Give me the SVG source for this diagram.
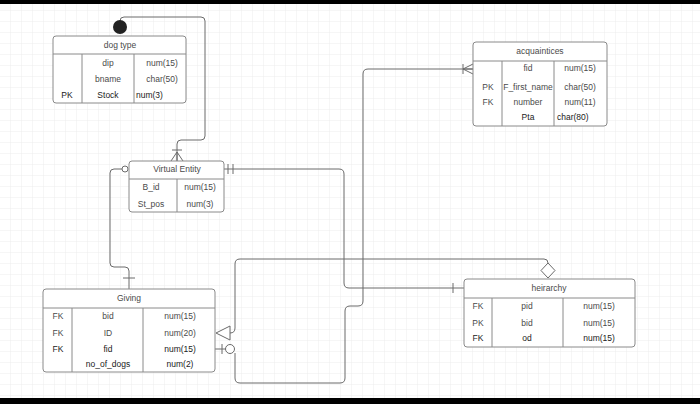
<svg xmlns="http://www.w3.org/2000/svg" width="700" height="404" viewBox="0 0 700 404">
<style>
.tbl{fill:#fff;stroke:#8a8a8a;stroke-width:1}
.ln{stroke:#8a8a8a;stroke-width:1;fill:none}
.cn{stroke:#6a6a6a;stroke-width:1;fill:none}
text{font-family:"Liberation Sans",Arial,sans-serif;font-size:8.5px;fill:#4a4a4a}
.m{text-anchor:middle}
.d{fill:#1a1a1a}
</style>
<defs>
<pattern id="g" width="11" height="11" patternUnits="userSpaceOnUse">
<path d="M11 0V11M0 11H11" stroke="#ececec" stroke-width="1" fill="none"/>
</pattern>
</defs>
<rect width="700" height="404" fill="#fff"/>
<rect width="700" height="404" fill="url(#g)"/>
<rect x="0" y="0" width="700" height="4" fill="#000"/>
<rect x="0" y="398" width="700" height="6" fill="#000"/>

<g id="connectors">
<!-- dog type circle to Virtual Entity -->
<path class="cn" d="M120 22V21Q120 17 124 17H201Q205 17 205 21V136Q205 140 201 140H181Q177 140 177 144V161"/>
<path class="cn" d="M172 150H182M177 152L171 161M177 152V161M177 152L183 161"/>
<!-- Virtual Entity left to Giving top -->
<path class="cn" d="M122 169H114Q110 169 110 173V263Q110 267 114 267H125Q129 267 129 271V289"/>
<circle cx="125" cy="169" r="3" fill="#fff" stroke="#6a6a6a"/>
<path class="cn" d="M123 278H135"/>
<!-- Virtual Entity right to heirarchy -->
<path class="cn" d="M224 169H339Q344 169 344 174V283Q344 288 349 288H464"/>
<path class="cn" d="M228 164V174M233 164V174M453 283V293"/>
<!-- acquaintices to Giving fid -->
<path class="cn" d="M473 69H368Q363 69 363 74V301Q363 306 358 306H350Q345 306 345 311V378Q345 383 340 383H240Q235 383 235 378V353"/>
<path class="cn" d="M463 64V74M463 69L473 64M463 69H473M463 69L473 74"/>
<path class="cn" d="M215 349H226"/>
<path class="cn" d="M222 344V354"/>
<circle cx="230" cy="349" r="4.5" fill="#fff" stroke="#6a6a6a"/>
<!-- heirarchy diamond to Giving ID -->
<path class="cn" d="M548 263Q548 259 544 259H240Q235 259 235 264V328Q235 333 230 333"/>
<path d="M216 333L230 326V340Z" fill="#fff" stroke="#6a6a6a"/>
<path d="M548 263L555 270.5L548 278L541 270.5Z" fill="#fff" stroke="#6a6a6a"/>
</g>

<g id="dog_type">
<rect class="tbl" x="53" y="36" width="133" height="67" rx="3"/>
<path class="ln" d="M53 54H186M82 54V103M134 54V103"/>
<circle cx="120" cy="27" r="7" fill="#222"/>
<text class="m" x="120" y="48">dog type</text>
<text class="m" x="108" y="66">dip</text>
<text class="m" x="108" y="82">bname</text>
<text class="m d" x="108" y="98">Stock</text>
<text class="m d" x="67" y="98">PK</text>
<text class="m" x="162" y="66">num(15)</text>
<text class="m" x="162" y="82">char(50)</text>
<text class="d" x="136" y="98">num(3)</text>
</g>

<g id="acquaintices">
<rect class="tbl" x="473" y="42" width="134" height="84" rx="3"/>
<path class="ln" d="M473 61H607M502 61V126M554 61V126"/>
<text class="m" x="540" y="54">acquaintices</text>
<text class="m" x="528" y="71">fid</text>
<text class="m" x="528" y="90">F_first_name</text>
<text class="m" x="528" y="105">number</text>
<text class="m d" x="528" y="120">Pta</text>
<text class="m" x="488" y="90">PK</text>
<text class="m" x="488" y="105">FK</text>
<text class="m" x="580" y="71">num(15)</text>
<text class="m" x="580" y="90">char(50)</text>
<text class="m" x="580" y="105">num(11)</text>
<text class="d" x="557" y="120">char(80)</text>
</g>

<g id="virtual_entity">
<rect class="tbl" x="129" y="161" width="95" height="51" rx="3"/>
<path class="ln" d="M129 179H224M177 179V212"/>
<text class="m" x="177" y="172">Virtual Entity</text>
<text class="m" x="151" y="190">B_id</text>
<text class="m" x="151" y="207">St_pos</text>
<text class="m" x="200" y="190">num(15)</text>
<text class="m" x="200" y="207">num(3)</text>
</g>

<g id="giving">
<rect class="tbl" x="43" y="289" width="172" height="83" rx="3"/>
<path class="ln" d="M43 308H215M72 308V372M143 308V372"/>
<text class="m" x="129" y="301">Giving</text>
<text class="m" x="58" y="319">FK</text>
<text class="m" x="58" y="336">FK</text>
<text class="m d" x="58" y="352">FK</text>
<text class="m" x="108" y="319">bid</text>
<text class="m" x="108" y="336">ID</text>
<text class="m d" x="108" y="352">fid</text>
<text class="m d" x="108" y="367">no_of_dogs</text>
<text class="m" x="180" y="319">num(15)</text>
<text class="m" x="180" y="336">num(20)</text>
<text class="m d" x="180" y="352">num(15)</text>
<text class="m d" x="180" y="367">num(2)</text>
</g>

<g id="heirarchy">
<rect class="tbl" x="464" y="279" width="171" height="68" rx="3"/>
<path class="ln" d="M464 298H635M492 298V347M563 298V347"/>
<text class="m" x="549" y="291">heirarchy</text>
<text class="m" x="478" y="309">FK</text>
<text class="m" x="478" y="326">PK</text>
<text class="m d" x="478" y="341">FK</text>
<text class="m" x="527" y="309">pid</text>
<text class="m" x="527" y="326">bid</text>
<text class="m d" x="527" y="341">od</text>
<text class="m" x="599" y="309">num(15)</text>
<text class="m" x="599" y="326">num(15)</text>
<text class="m d" x="599" y="341">num(15)</text>
</g>
</svg>
